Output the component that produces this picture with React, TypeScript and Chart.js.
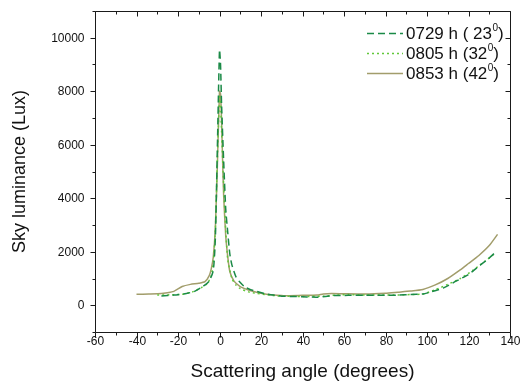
import React, { useEffect, useRef } from "react";
import { Chart, registerables } from "chart.js";

Chart.register(...registerables);

// ---- Data ----
const angles0729 = [-28, -22, -16, -12, -8, -5, -3, -2, -1, 0, 0.5, 1, 2, 3, 4, 5, 6, 8, 10, 12, 15, 18, 22, 26, 30, 40, 47, 55, 62, 70, 78, 86, 92, 98, 102, 108, 114, 120, 124, 129, 133];
const lux0729 = [350, 380, 440, 520, 700, 900, 1300, 2500, 6000, 9550, 9000, 7500, 5400, 3600, 2700, 1900, 1500, 1050, 850, 700, 580, 520, 430, 380, 340, 320, 300, 360, 370, 370, 370, 380, 400, 420, 500, 650, 900, 1150, 1400, 1700, 1980];

const angles0805 = [-30, -24, -18, -13, -9, -6, -4, -3, -2, -1, 0, 0.5, 1, 2, 3, 4, 6, 8, 10, 14, 18, 22, 26, 30, 40, 50, 56, 62, 70, 78, 86, 92, 98, 104, 110, 116, 122, 128, 133];
const lux0805 = [380, 390, 410, 500, 650, 800, 1100, 1600, 2800, 5500, 7800, 7500, 6500, 4500, 2800, 1700, 1000, 750, 620, 500, 440, 400, 360, 340, 330, 340, 380, 400, 380, 380, 380, 400, 420, 580, 780, 1000, 1300, 1650, 1950];

const angles0853 = [-40, -34, -28, -22, -18, -14, -10, -7, -5, -4, -3, -2, -1, 0, 0.5, 1, 1.5, 2, 3, 4, 5, 7, 10, 13, 16, 20, 25, 30, 40, 47, 50, 54, 60, 70, 80, 86, 92, 98, 104, 110, 116, 120, 125, 130, 134];
const lux0853 = [410, 420, 440, 520, 700, 780, 820, 880, 1100, 1350, 1800, 2900, 5300, 8000, 7900, 6900, 5400, 4100, 2600, 1800, 1250, 900, 700, 600, 520, 450, 390, 360, 370, 380, 420, 440, 430, 420, 450, 490, 530, 590, 760, 1000, 1320, 1560, 1860, 2230, 2650];

const legendLabels = ["0729 h ( 23", "0805 h (32", "0853 h (42"];
const legendSup = "0";
const legendClose = ")";

const xTitle = "Scattering angle (degrees)";
const yTitle = "Sky luminance (Lux)";
const xMin = -60, xMax = 140, xMajor = 20, xMinor = 10;
const yMin = -1000, yMax = 11000, yMajor = 2000, yMinor = 1000;
const yLabelMin = 0, yLabelMax = 10000;

const FONT = "'Liberation Sans', Arial, sans-serif";

const axesPlugin = {
  id: "customAxes",
  afterDraw(chart: any) {
    const ctx = chart.ctx;
    const a = chart.chartArea;
    const xs = chart.scales.x;
    const ys = chart.scales.y;
    ctx.save();
    ctx.strokeStyle = "#1a1a1a";
    ctx.fillStyle = "#111";
    ctx.lineWidth = 1;
    const L = Math.round(a.left) + 0.5, R = Math.round(a.right) + 0.5;
    const T = Math.round(a.top) + 0.5, B = Math.round(a.bottom) + 0.5;
    ctx.beginPath();
    ctx.rect(L, T, R - L, B - T);
    ctx.stroke();

    ctx.font = `12px ${FONT}`;
    ctx.textAlign = "center";
    ctx.textBaseline = "middle";
    for (let v = xMin; v <= xMax; v += xMinor) {
      const px = Math.round(xs.getPixelForValue(v)) + 0.5;
      const major = v % xMajor === 0;
      const len = major ? 5 : 3;
      ctx.beginPath();
      ctx.moveTo(px, B); ctx.lineTo(px, B + len);
      ctx.moveTo(px, T); ctx.lineTo(px, T + len);
      ctx.stroke();
      if (major) ctx.fillText(String(v), px, B + 9.5);
    }
    ctx.textAlign = "right";
    for (let v = yMin; v <= yMax; v += yMinor) {
      const py = Math.round(ys.getPixelForValue(v)) + 0.5;
      const major = v % yMajor === 0;
      const len = major ? 5 : 3;
      ctx.beginPath();
      ctx.moveTo(L, py); ctx.lineTo(L - len, py);
      ctx.moveTo(R, py); ctx.lineTo(R - len, py);
      ctx.stroke();
      if (major && v >= yLabelMin && v <= yLabelMax) ctx.fillText(String(v), L - 11, py + 0.5);
    }

    // titles
    ctx.font = `19px ${FONT}`;
    ctx.textAlign = "center";
    ctx.textBaseline = "alphabetic";
    ctx.fillText(xTitle, (a.left + a.right) / 2, 377);
    ctx.save();
    ctx.translate(25, (a.top + a.bottom) / 2);
    ctx.rotate(-Math.PI / 2);
    ctx.font = `18px ${FONT}`;
    ctx.fillText(yTitle, 0, 0);
    ctx.restore();

    // legend
    const ds = chart.data.datasets;
    for (let i = 0; i < ds.length; i++) {
      const yRow = 33 + i * 20;
      ctx.save();
      ctx.strokeStyle = ds[i].borderColor;
      ctx.lineWidth = ds[i].borderWidth;
      ctx.setLineDash(ds[i].borderDash || []);
      ctx.beginPath();
      ctx.moveTo(367, yRow + 0.5);
      ctx.lineTo(403, yRow + 0.5);
      ctx.stroke();
      ctx.restore();
      ctx.fillStyle = "#111";
      ctx.textAlign = "left";
      ctx.textBaseline = "middle";
      ctx.font = `17px ${FONT}`;
      let tx = 406;
      ctx.fillText(legendLabels[i], tx, yRow + 1);
      tx += ctx.measureText(legendLabels[i]).width;
      ctx.font = `10px ${FONT}`;
      ctx.fillText(legendSup, tx + 0.5, yRow - 5);
      tx += ctx.measureText(legendSup).width + 0.5;
      ctx.font = `17px ${FONT}`;
      ctx.fillText(legendClose, tx, yRow + 1);
    }
    ctx.restore();
  },
};

function zip(xs: number[], ys: number[]) {
  return xs.map((x, i) => ({ x, y: ys[i] }));
}

export default function App() {
  const ref = useRef<HTMLCanvasElement | null>(null);
  useEffect(() => {
    if (!ref.current) return;
    const chart = new Chart(ref.current, {
      type: "line",
      data: {
        datasets: [
          {
            label: legendLabels[0],
            data: zip(angles0729, lux0729),
            borderColor: "#1b8a47",
            borderWidth: 1.5,
            borderDash: [7, 4],
            pointRadius: 0,
            fill: false,
            tension: 0.2,
          },
          {
            label: legendLabels[1],
            data: zip(angles0805, lux0805),
            borderColor: "#62c83a",
            borderWidth: 1.5,
            borderDash: [2, 3],
            pointRadius: 0,
            fill: false,
            tension: 0.2,
          },
          {
            label: legendLabels[2],
            data: zip(angles0853, lux0853),
            borderColor: "#a29d6b",
            borderWidth: 1.5,
            pointRadius: 0,
            fill: false,
            tension: 0.2,
          },
        ] as any,
      },
      options: {
        animation: false,
        responsive: false,
        devicePixelRatio: 1,
        layout: { padding: { left: 95, right: 10, top: 11, bottom: 53 } },
        scales: {
          x: { type: "linear", min: xMin, max: xMax, display: false },
          y: { type: "linear", min: yMin, max: yMax, display: false },
        },
        plugins: { legend: { display: false }, tooltip: { enabled: false } },
      },
      plugins: [axesPlugin],
    });
    return () => chart.destroy();
  }, []);
  return (
    <div style={{ position: "absolute", left: 0, top: 0, width: 520, height: 385, background: "#fff" }}>
      <canvas ref={ref} width={520} height={385} style={{ display: "block" }} />
    </div>
  );
}
